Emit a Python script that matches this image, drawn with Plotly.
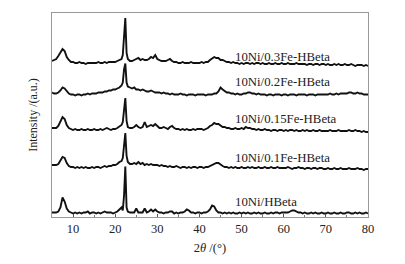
import plotly.graph_objects as go

# 2-theta grid (degrees)
two_theta = (
    [5.0, 5.5, 6.0, 6.5, 7.0, 7.5, 8.0, 8.5, 9.0, 9.5]
    + [10.0, 10.5, 11.0, 11.5, 12.0, 12.5, 13.0, 13.5, 14.0, 14.5]
    + [15.0, 15.5, 16.0, 16.5, 17.0, 17.5, 18.0, 18.5, 19.0, 19.5]
    + [20.0, 20.5, 21.0, 21.5]
    + [21.8, 22.1, 22.4, 22.7]
    + [23.0, 23.5, 24.0, 24.5, 25.0, 25.5, 26.0, 26.5, 27.0, 27.5, 28.0, 28.5, 29.0, 29.5]
    + [30.0 + 0.5 * i for i in range(20)]
    + [40.0 + 0.5 * i for i in range(20)]
    + [50.0 + 0.5 * i for i in range(20)]
    + [60.0 + 0.5 * i for i in range(20)]
    + [70.0 + 0.5 * i for i in range(21)]
)

names = ["10Ni/HBeta", "10Ni/0.1Fe-HBeta", "10Ni/0.15Fe-HBeta",
         "10Ni/0.2Fe-HBeta", "10Ni/0.3Fe-HBeta"]

# stacking offsets (a.u.)
offsets = [3.5, 49, 87, 122.5, 154]

hbeta = (
    [1, 1, 1, 2, 6, 16, 12, 5, 2, 1]
    + [0, 1, 0, 1, 0, 1, 1, 2, 0, 1]
    + [1, 0, 1, 0, 1, 2, 1, 1, 1, 0]
    + [1, 2, 4, 6]
    + [3, 18, 47, 6]
    + [2, 1, 1, 1, 5, 1, 1, 1, 5, 1, 2, 4, 2, 4]
    + [2, 1, 1, 0, 1, 1, 2, 2, 0, 1, 0, 1, 1, 2, 4, 3, 1, 1, 0, 1]
    + [1, 0, 1, 1, 2, 4, 8, 7, 3, 1, 1, 0, 1, 0, 1, 0, 1, 0, 0, 1]
    + [0, 1, 0, 1, 0, 0, 1, 0, 1, 0, 0, 1, 0, 0, 1, 0, 1, 1, 0, 1]
    + [1, 1, 1, 2, 3, 3, 2, 1, 1, 0, 1, 0, 0, 1, 0, 1, 0, 0, 1, 0]
    + [0, 1, 0, 0, 1, 0, 0, 1, 0, 0, 1, 1, 0, 0, 1, 0, 1, 0, 0, 1, 0]
)

fe01 = (
    [3, 3, 3, 4, 7, 11, 10, 5, 2, 1]
    + [1, 0, 1, 0, 1, 0, 1, 0, 0, 1]
    + [0, 1, 1, 0, 1, 2, 1, 2, 2, 3]
    + [3, 4, 6, 7]
    + [10, 25, 35, 12]
    + [6, 4, 4, 5, 4, 6, 4, 5, 3, 4, 3, 4, 3, 3]
    + [3, 2, 3, 2, 2, 1, 2, 1, 1, 2, 1, 0, 1, 1, 0, 1, 0, 1, 1, 0]
    + [1, 1, 0, 1, 1, 2, 3, 4, 5, 5, 3, 2, 1, 1, 0, 1, 0, 1, 0, 0]
    + [1, 0, 0, 1, 0, 1, 0, 0, 1, 0, 0, 1, 0, 0, 1, 0, 0, 1, 0, 0]
    + [0, 0, 1, 0, -1, 0, 0, 1, 0, 0, -1, 0, 0, -1, 0, 0, -1, 0, 0, -1]
    + [-1, 0, -1, -1, 0, -1, -1, 0, -1, -1, -1, 0, -1, -1, -1, 0, -1, -1, -2, -1, -1]
)

fe015 = (
    [2, 2, 2, 4, 8, 13, 11, 5, 2, 1]
    + [0, 1, 0, 0, 1, 0, 0, 1, 0, 0]
    + [1, 0, 0, 1, 0, 1, 2, 1, 0, 1]
    + [1, 2, 4, 5]
    + [8, 22, 32, 9]
    + [3, 2, 2, 3, 5, 3, 2, 3, 8, 3, 4, 5, 4, 6]
    + [4, 2, 2, 3, 2, 1, 3, 4, 2, 1, 1, 0, 1, 0, 1, 0, 0, 1, 0, 1]
    + [1, 1, 0, 1, 2, 4, 5, 7, 6, 6, 4, 3, 3, 2, 2, 1, 1, 2, 1, 1]
    + [2, 1, 3, 2, 2, 1, 1, 0, 1, 0, 0, 1, 0, 0, -1, 0, 0, -1, 0, 0]
    + [-1, 0, -1, 0, 0, -1, 0, -1, -1, 0, -1, 0, -1, -1, 0, -1, -1, 0, -1, -1]
    + [-1, -1, 0, -1, -1, -1, 0, -1, -1, -1, -1, 0, -1, -1, 0, -1, -1, -2, -1, -2, -2]
)

fe02 = (
    [2, 1, 1, 2, 4, 7, 6, 3, 1, 0]
    + [0, -1, 0, 0, -1, 0, 0, 1, 0, 1]
    + [1, 1, 2, 2, 2, 3, 3, 4, 4, 5]
    + [5, 6, 7, 9]
    + [12, 25, 31, 12]
    + [8, 7, 6, 7, 5, 5, 4, 5, 4, 3, 3, 4, 3, 2]
    + [2, 2, 1, 2, 1, 1, 0, 1, 0, 0, 0, 1, 0, 0, -1, 0, 0, 0, -1, 0]
    + [0, 0, 0, -1, 0, 0, 0, 1, 1, 3, 7, 5, 3, 2, 2, 1, 1, 0, 1, 0]
    + [0, 1, 1, 2, 2, 1, 1, 0, 1, 0, 0, 0, -1, 0, 0, -1, 0, 0, 0, -1]
    + [0, 0, -1, 0, 0, 0, -1, 0, 0, 0, 0, -1, 0, 0, 0, -1, 0, 0, 0, 0]
    + [0, 0, 1, 0, 0, 1, 0, 1, 1, 1, 1, 2, 2, 1, 1, 2, 1, 1, 0, 0, 0]
)

fe03 = (
    [2, 3, 4, 7, 10, 14, 12, 6, 3, 1]
    + [1, 0, 0, 1, 0, 0, -1, 0, 0, 0]
    + [0, 0, 1, 0, 0, 1, 0, 1, 1, 1]
    + [1, 2, 3, 4]
    + [8, 26, 45, 10]
    + [4, 2, 2, 3, 4, 5, 3, 4, 3, 3, 4, 6, 5, 8]
    + [4, 3, 2, 2, 2, 3, 4, 2, 1, 1, 0, 0, 1, 0, 0, 0, 1, 0, 0, 0]
    + [0, 1, 0, 1, 1, 3, 5, 6, 5, 5, 3, 3, 2, 1, 1, 0, 1, 0, 0, -1]
    + [0, -1, 0, 0, -1, 0, -1, 0, 0, -1, 0, -1, -1, 0, -1, -1, 0, -1, -1, 0]
    + [-1, -1, 0, -1, -1, -1, 0, -1, -1, -1, -1, -2, -1, -1, -2, -1, -1, -2, -1, -1]
    + [-2, -1, -2, -2, -1, -2, -1, -2, -2, -1, -2, -2, -1, -2, -3, -2, -2, -2, -3, -2, -3]
)

series = [hbeta, fe01, fe015, fe02, fe03]

# label anchor positions (2theta, a.u.)
label_x = [47.9, 47.9, 47.9, 47.9, 47.9]
label_y = [14.7, 59.3, 97.7, 135.0, 160.0]

x_ticks = [10, 20, 30, 40, 50, 60, 70, 80]

fig = go.Figure()
for vals, off in zip(series, offsets):
    fig.add_trace(go.Scatter(
        x=two_theta, y=[v + off for v in vals], mode="lines",
        line=dict(color="#111111", width=1.9), showlegend=False,
        hoverinfo="skip"))

font_serif = "Liberation Serif, Times New Roman, serif"
for name, lx, ly in zip(names, label_x, label_y):
    fig.add_annotation(x=lx, y=ly, text=name, showarrow=False,
                       xanchor="left", yanchor="middle",
                       font=dict(family=font_serif, size=12.8, color="#222222"))

# page body adds an 8px margin, so the figure is sized/margined to compensate
fig.update_layout(
    width=397, height=256,
    margin=dict(l=44, r=37, t=5, b=47),
    paper_bgcolor="white", plot_bgcolor="white",
    font=dict(family=font_serif, size=12, color="#222222"),
)
fig.update_xaxes(
    range=[5, 80], tickvals=x_ticks, ticks="inside", ticklen=3,
    tickcolor="#555555", showgrid=False, zeroline=False, automargin=False,
    showline=True, linecolor="#999999", linewidth=1, mirror=True,
    minor=dict(ticks="inside", ticklen=2, dtick=5, tick0=0, tickcolor="#777777"),
    tickfont=dict(size=12.5, family=font_serif, color="#222222"),
    title=dict(text="2<i>θ</i> /(°)", font=dict(size=12.5, family=font_serif), standoff=8),
)
fig.update_yaxes(
    range=[0, 204], showticklabels=False, ticks="", showgrid=False,
    zeroline=False, showline=True, linecolor="#999999", linewidth=1, mirror=True,
    automargin=False,
    title=dict(text="Intensity /(a.u.)", font=dict(size=12, family=font_serif), standoff=10),
)

fig.write_html("out.html")
